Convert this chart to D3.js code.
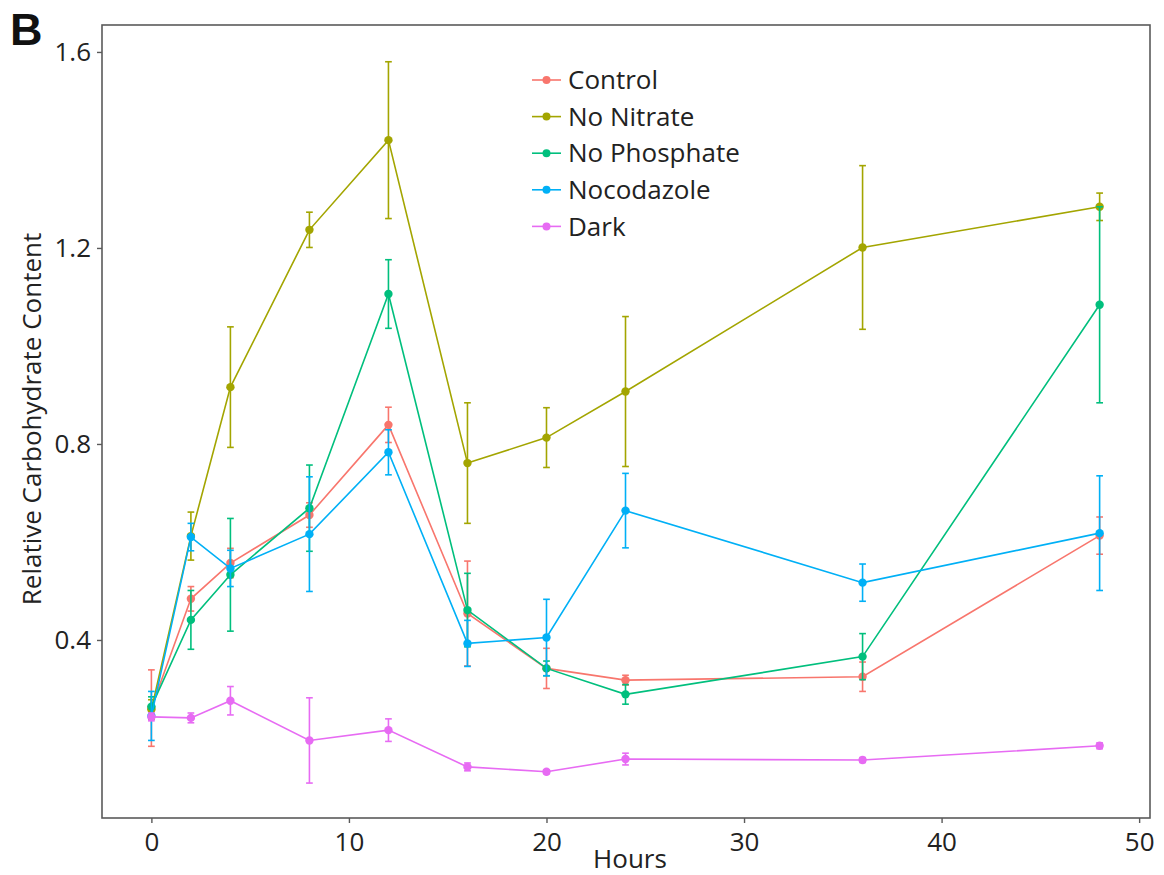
<!DOCTYPE html>
<html>
<head>
<meta charset="utf-8">
<script src="https://cdn.jsdelivr.net/npm/d3@7"></script>
<style>
  html, body { margin: 0; padding: 0; background: #fff; }
  svg { display: block; font-family: "Open Sans", "Noto Sans", sans-serif; }
</style>
</head>
<body>
<svg id="chart" width="1164" height="875"></svg>
<script>
// Sampling times (hours)
const hours = [0, 2, 4, 8, 12, 16, 20, 24, 36, 48];

// Mean relative carbohydrate content and error (±) per treatment
const control        = [0.261, 0.484, 0.557, 0.655, 0.839, 0.454, 0.342, 0.318, 0.325, 0.613];
const controlErr     = [0.078, 0.025, 0.030, 0.025, 0.036, 0.107, 0.041, 0.010, 0.030, 0.038];
const noNitrate      = [0.258, 0.612, 0.916, 1.237, 1.420, 0.761, 0.813, 0.907, 1.201, 1.284];
const noNitrateErr   = [0.020, 0.049, 0.123, 0.036, 0.160, 0.123, 0.061, 0.153, 0.167, 0.028];
const noPhosphate    = [0.264, 0.441, 0.533, 0.669, 1.106, 0.461, 0.342, 0.289, 0.366, 1.084];
const noPhosphateErr = [0.020, 0.060, 0.115, 0.088, 0.070, 0.075, 0.015, 0.020, 0.047, 0.200];
const nocodazole     = [0.245, 0.610, 0.546, 0.616, 0.783, 0.393, 0.405, 0.664, 0.517, 0.618];
const nocodazoleErr  = [0.050, 0.028, 0.037, 0.117, 0.046, 0.047, 0.078, 0.076, 0.038, 0.117];
const dark           = [0.243, 0.241, 0.276, 0.195, 0.216, 0.141, 0.131, 0.157, 0.155, 0.184];
const darkErr        = [0.008, 0.010, 0.029, 0.087, 0.023, 0.008, 0.004, 0.012, 0.005, 0.006];

const seriesNames  = ["Control", "No Nitrate", "No Phosphate", "Nocodazole", "Dark"];
const seriesColors = ["#F8766D", "#A3A500", "#00BF7D", "#00B0F6", "#E76BF3"];
const xTicks = [0, 10, 20, 30, 40, 50];
const yTicks = [0.4, 0.8, 1.2, 1.6];

const series = [
  { name: seriesNames[0], color: seriesColors[0], values: control,     errors: controlErr },
  { name: seriesNames[1], color: seriesColors[1], values: noNitrate,   errors: noNitrateErr },
  { name: seriesNames[2], color: seriesColors[2], values: noPhosphate, errors: noPhosphateErr },
  { name: seriesNames[3], color: seriesColors[3], values: nocodazole,  errors: nocodazoleErr },
  { name: seriesNames[4], color: seriesColors[4], values: dark,        errors: darkErr }
];

const svg = d3.select("#chart");
const panel = { left: 102, right: 1150, top: 25, bottom: 818 };

const x = d3.scaleLinear().domain([-2.5, 50.55]).range([panel.left, panel.right]);
const y = d3.scaleLinear().domain([0.0367, 1.655]).range([panel.bottom, panel.top]);

const axisColor = "#5a5a5a";
const textColor = "#222";
const fontSize = "26px";

// Panel frame
svg.append("rect")
  .attr("x", panel.left).attr("y", panel.top)
  .attr("width", panel.right - panel.left).attr("height", panel.bottom - panel.top)
  .attr("fill", "none").attr("stroke", axisColor).attr("stroke-width", 1.6);

// Axes
const xAxis = svg.append("g")
  .attr("transform", `translate(0,${panel.bottom})`)
  .call(d3.axisBottom(x).tickValues(xTicks).tickFormat(d3.format("d")).tickSize(5).tickPadding(10));
const yAxis = svg.append("g")
  .attr("transform", `translate(${panel.left},0)`)
  .call(d3.axisLeft(y).tickValues(yTicks).tickFormat(d3.format(".1f")).tickSize(5).tickPadding(6));

[xAxis, yAxis].forEach(g => {
  g.select(".domain").remove();
  g.selectAll(".tick line").attr("stroke", axisColor).attr("stroke-width", 1.4);
  g.selectAll(".tick text")
    .attr("fill", textColor)
    .style("font-family", "'Open Sans', 'Noto Sans', sans-serif")
    .style("font-size", fontSize);
});

// Axis titles
svg.append("text")
  .attr("x", 630).attr("y", 868)
  .attr("text-anchor", "middle")
  .attr("fill", textColor)
  .style("font-size", fontSize)
  .text("Hours");

svg.append("text")
  .attr("transform", "translate(41,419) rotate(-90)")
  .attr("text-anchor", "middle")
  .attr("fill", textColor)
  .style("font-size", fontSize)
  .text("Relative Carbohydrate Content");

// Panel letter
svg.append("text")
  .attr("x", 10).attr("y", 45)
  .attr("fill", "#111")
  .style("font-family", "'Liberation Sans', Arial, sans-serif")
  .style("font-size", "45px")
  .style("font-weight", "bold")
  .text("B");

// Data layers
const capHalf = 0.17; // half-width of error-bar caps, in hours
const line = d3.line().x((d, i) => x(hours[i])).y(d => y(d));

series.forEach(s => {
  const g = svg.append("g");

  // Error bars
  const eb = g.selectAll("g.eb").data(s.values.map((v, i) => ({ h: hours[i], v, e: s.errors[i] })))
    .enter().append("g").attr("class", "eb")
    .attr("stroke", s.color).attr("stroke-width", 1.6).attr("fill", "none");
  eb.append("line")
    .attr("x1", d => x(d.h)).attr("x2", d => x(d.h))
    .attr("y1", d => y(d.v - d.e)).attr("y2", d => y(d.v + d.e));
  eb.append("line")
    .attr("x1", d => x(d.h - capHalf)).attr("x2", d => x(d.h + capHalf))
    .attr("y1", d => y(d.v + d.e)).attr("y2", d => y(d.v + d.e));
  eb.append("line")
    .attr("x1", d => x(d.h - capHalf)).attr("x2", d => x(d.h + capHalf))
    .attr("y1", d => y(d.v - d.e)).attr("y2", d => y(d.v - d.e));

  // Connecting line
  g.append("path")
    .datum(s.values)
    .attr("d", line)
    .attr("fill", "none")
    .attr("stroke", s.color)
    .attr("stroke-width", 1.6);

  // Points
  g.selectAll("circle").data(s.values).enter().append("circle")
    .attr("cx", (d, i) => x(hours[i]))
    .attr("cy", d => y(d))
    .attr("r", 4.2)
    .attr("fill", s.color);
});

// Legend
const legend = svg.append("g").attr("transform", "translate(532,80)");
series.forEach((s, i) => {
  const row = legend.append("g").attr("transform", `translate(0,${i * 36.6})`);
  row.append("line")
    .attr("x1", 0).attr("x2", 29).attr("y1", 0).attr("y2", 0)
    .attr("stroke", s.color).attr("stroke-width", 1.6);
  row.append("circle").attr("cx", 14.5).attr("cy", 0).attr("r", 4).attr("fill", s.color);
  row.append("text")
    .attr("x", 36).attr("y", 0).attr("dy", "0.35em")
    .attr("fill", textColor)
    .style("font-size", fontSize)
    .text(s.name);
});
</script>
</body>
</html>
